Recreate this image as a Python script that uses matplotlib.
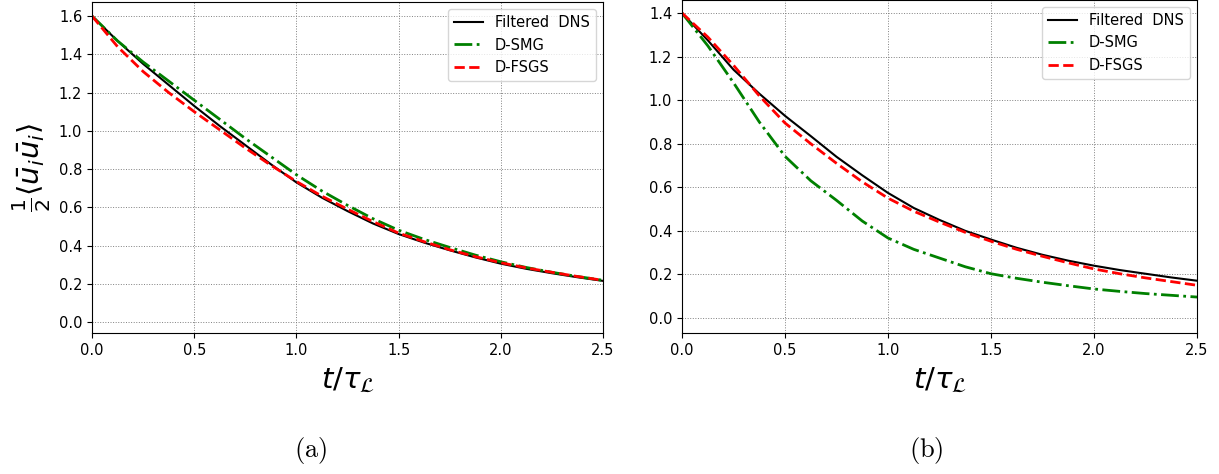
import numpy as np
import matplotlib
matplotlib.use("Agg")
import matplotlib.pyplot as plt

# Time samples (t / tau_L)
t = [0.0, 0.125, 0.25, 0.375, 0.5, 0.625, 0.75, 0.875, 1.0, 1.125, 1.25,
     1.375, 1.5, 1.625, 1.75, 1.875, 2.0, 2.125, 2.25, 2.375, 2.5]

# (a)
dns_a = [1.60, 1.47, 1.35, 1.24, 1.13, 1.025, 0.925, 0.825, 0.73, 0.65, 0.58,
         0.515, 0.46, 0.415, 0.375, 0.338, 0.305, 0.278, 0.255, 0.234, 0.215]
smg_a = [1.60, 1.47, 1.36, 1.26, 1.16, 1.06, 0.96, 0.865, 0.77, 0.685, 0.61,
         0.54, 0.48, 0.432, 0.39, 0.35, 0.315, 0.285, 0.26, 0.238, 0.218]
fsgs_a = [1.60, 1.44, 1.31, 1.20, 1.10, 1.005, 0.91, 0.82, 0.735, 0.658, 0.59,
          0.525, 0.465, 0.42, 0.378, 0.342, 0.31, 0.283, 0.26, 0.238, 0.218]

# (b)
dns_b = [1.40, 1.275, 1.14, 1.03, 0.928, 0.835, 0.74, 0.655, 0.574, 0.505, 0.45,
         0.40, 0.36, 0.322, 0.29, 0.263, 0.24, 0.22, 0.203, 0.186, 0.171]
smg_b = [1.40, 1.25, 1.08, 0.90, 0.742, 0.63, 0.54, 0.445, 0.367, 0.315, 0.275,
         0.235, 0.203, 0.182, 0.164, 0.148, 0.133, 0.122, 0.112, 0.104, 0.096]
fsgs_b = [1.40, 1.29, 1.16, 1.02, 0.895, 0.80, 0.71, 0.625, 0.55, 0.49, 0.44,
          0.393, 0.352, 0.315, 0.283, 0.253, 0.225, 0.203, 0.184, 0.167, 0.15]

labels = ["Filtered  DNS", "D-SMG", "D-FSGS"]
xticks = [0.0, 0.5, 1.0, 1.5, 2.0, 2.5]

fig = plt.figure(figsize=(12.19, 4.74), dpi=100)
ax_a = fig.add_axes([0.0755, 0.2975, 0.4192, 0.698])
ax_b = fig.add_axes([0.5595, 0.2975, 0.4225, 0.7025])


def style_axis(ax, dns, smg, fsgs, ylim, yticks):
    ax.plot(t, dns, color="k", lw=1.5, label=labels[0])
    ax.plot(t, smg, color="green", lw=2, ls="-.", label=labels[1])
    ax.plot(t, fsgs, color="red", lw=2, ls="--", label=labels[2])
    ax.set_xlim(0, 2.5)
    ax.set_ylim(*ylim)
    ax.set_xticks(xticks)
    ax.set_yticks(yticks)
    ax.tick_params(labelsize=10.5)
    ax.grid(True, color="gray", ls=":", lw=0.7)
    ax.set_xlabel(r"$t/\tau_{\mathcal{L}}$", fontsize=21, labelpad=6)
    ax.legend(loc="upper right", fontsize=10.5, framealpha=0.8)


style_axis(ax_a, dns_a, smg_a, fsgs_a, (-0.0575, 1.673), np.arange(0, 1.61, 0.2))
style_axis(ax_b, dns_b, smg_b, fsgs_b, (-0.069, 1.46), np.arange(0, 1.41, 0.2))
ax_a.set_ylabel(r"$\frac{1}{2}\langle \bar{u}_i \bar{u}_i \rangle$", fontsize=21, labelpad=4)

fig.text(0.255, 0.035, r"$\mathrm{(a)}$", fontsize=19, ha="center", math_fontfamily="cm")
fig.text(0.760, 0.035, r"$\mathrm{(b)}$", fontsize=19, ha="center", math_fontfamily="cm")

fig.savefig("out.png", dpi=100)
